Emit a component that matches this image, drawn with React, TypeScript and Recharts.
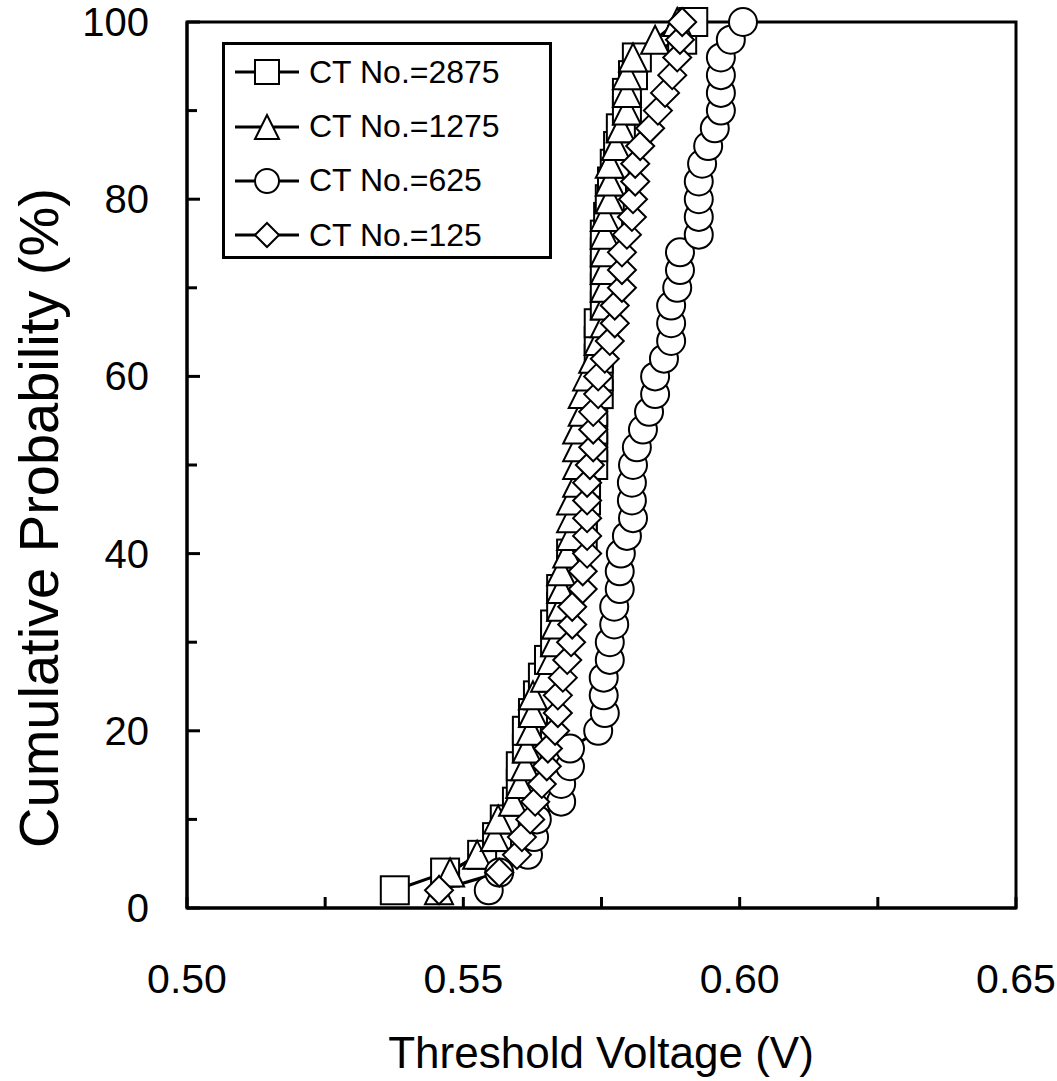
import React from 'react';
import { LineChart, Line, XAxis, YAxis, ReferenceArea, Legend } from 'recharts';

// cumulative probability (%) of each sorted sample
const probability = [
  2, 4, 6, 8, 10, 12, 14, 16, 18, 20, 22, 24, 26, 28, 30, 32, 34, 36, 38, 40, 42, 44, 46, 48, 50,
  52, 54, 56, 58, 60, 62, 64, 66, 68, 70, 72, 74, 76, 78, 80, 82, 84, 86, 88, 90, 92, 94, 96, 98, 100,
];

// threshold voltage (V), one value per probability step
const vt2875 = [
  0.5376, 0.5467, 0.5534, 0.5561, 0.5575, 0.5597, 0.5604, 0.5604, 0.5615, 0.5615,
  0.5626, 0.5635, 0.5644, 0.5655, 0.5666, 0.5666, 0.5677, 0.5677, 0.5695, 0.5695,
  0.5716, 0.5716, 0.5722, 0.5722, 0.5735, 0.5735, 0.5735, 0.5735, 0.5745, 0.5745,
  0.5745, 0.5745, 0.5745, 0.5756, 0.5756, 0.5756, 0.5756, 0.5756, 0.5762, 0.5765,
  0.5769, 0.5774, 0.578, 0.5785, 0.5796, 0.5796, 0.5807, 0.5814, 0.5896, 0.5916,
];
const vt1275 = [
  0.5456, 0.5476, 0.5525, 0.5557, 0.5563, 0.559, 0.5603, 0.5612, 0.5615, 0.5622,
  0.5626, 0.5626, 0.5648, 0.5659, 0.5666, 0.5668, 0.5677, 0.5677, 0.5677, 0.5688,
  0.5695, 0.5695, 0.5695, 0.5706, 0.5706, 0.5706, 0.5706, 0.5716, 0.5716, 0.5724,
  0.5735, 0.5745, 0.5756, 0.5756, 0.5756, 0.5756, 0.5756, 0.5756, 0.5756, 0.5765,
  0.5765, 0.5765, 0.5776, 0.5785, 0.5796, 0.5796, 0.5796, 0.5807, 0.5847, 0.5887,
];
const vt625 = [
  0.5546, 0.5565, 0.5617, 0.5628, 0.5633, 0.5677, 0.5677, 0.5693, 0.5693, 0.5744,
  0.5756, 0.5754, 0.5754, 0.5765, 0.5765, 0.5773, 0.5773, 0.5783, 0.5783, 0.5785,
  0.5796, 0.5807, 0.5805, 0.5805, 0.5807, 0.5814, 0.5825, 0.5836, 0.5847, 0.5847,
  0.5863, 0.5876, 0.5876, 0.5876, 0.5887, 0.5892, 0.5892, 0.5926, 0.5926, 0.5926,
  0.5926, 0.5932, 0.5943, 0.5955, 0.5966, 0.5966, 0.5966, 0.5966, 0.5984, 0.6006,
];
const vt125 = [
  0.5456, 0.5565, 0.5597, 0.5606, 0.5621, 0.563, 0.5642, 0.5651, 0.5653, 0.5666,
  0.5671, 0.5671, 0.568, 0.5688, 0.5695, 0.5697, 0.5697, 0.5716, 0.5716, 0.5724,
  0.5724, 0.5724, 0.5724, 0.5724, 0.5729, 0.5735, 0.5735, 0.5735, 0.5744, 0.5744,
  0.5756, 0.5765, 0.5774, 0.5774, 0.5787, 0.5787, 0.5787, 0.5796, 0.5805, 0.5807,
  0.5811, 0.5811, 0.582, 0.5838, 0.5852, 0.5865, 0.5878, 0.5887, 0.5892, 0.5896,
];

const seriesNames = ['CT No.=2875', 'CT No.=1275', 'CT No.=625', 'CT No.=125'];
const seriesShapes = ['square', 'triangle', 'circle', 'diamond'];
const seriesValues = [vt2875, vt1275, vt625, vt125];

const xTicks = [0.5, 0.525, 0.55, 0.575, 0.6, 0.625, 0.65];
const yTicks = [0, 10, 20, 30, 40, 50, 60, 70, 80, 90, 100];

const FONT = '"Liberation Sans", Arial, sans-serif';

function Marker({ shape, cx, cy, size }: { shape: string; cx: number; cy: number; size: number }) {
  const h = size / 2;
  const common = { fill: '#fff', stroke: '#000', strokeWidth: 2 };
  if (shape === 'square') return <rect x={cx - h} y={cy - h} width={size} height={size} {...common} />;
  if (shape === 'triangle')
    return <polygon points={`${cx},${cy - h} ${cx + h},${cy + h} ${cx - h},${cy + h}`} {...common} />;
  if (shape === 'circle') return <circle cx={cx} cy={cy} r={h} {...common} />;
  return <polygon points={`${cx},${cy - h} ${cx + h},${cy} ${cx},${cy + h} ${cx - h},${cy}`} {...common} />;
}

const XTick = (props: any) => {
  const { x, y, payload } = props;
  const v = Math.round(payload.value * 1000);
  return (
    <g>
      <line x1={x} x2={x} y1={y} y2={y - 11} stroke="#000" strokeWidth={3} />
      {v % 50 === 0 && (
        <text x={x} y={y + 71} textAnchor="middle" dominantBaseline="central" fontSize={41} fontFamily={FONT} fill="#000">
          {payload.value.toFixed(2)}
        </text>
      )}
    </g>
  );
};

const YTick = (props: any) => {
  const { x, y, payload } = props;
  const major = payload.value % 20 === 0;
  return (
    <g>
      <line x1={x} x2={x + (major ? 13 : 10)} y1={y} y2={y} stroke="#000" strokeWidth={3} />
      {major && (
        <text x={x - 38} y={y} textAnchor="end" dominantBaseline="central" fontSize={40} fontFamily={FONT} fill="#000">
          {payload.value}
        </text>
      )}
    </g>
  );
};

const renderLegend = () => (
  <div
    style={{
      border: '3px solid #000',
      background: '#fff',
      fontFamily: FONT,
      fontSize: 32,
      width: 330,
      height: 217,
      boxSizing: 'border-box',
    }}
  >
    {seriesNames.map((name, i) => (
      <div key={name} style={{ display: 'flex', alignItems: 'center', height: 54.4 }}>
        <svg width={84} height={40}>
          <line x1={10} x2={74} y1={20} y2={20} stroke="#000" strokeWidth={3} />
          <Marker shape={seriesShapes[i]} cx={42} cy={20} size={24} />
        </svg>
        <span style={{ whiteSpace: 'nowrap' }}>{name}</span>
      </div>
    ))}
  </div>
);

export default function App() {
  return (
    <div style={{ position: 'absolute', left: 0, top: 0, background: '#fff' }}>
      <LineChart width={1057} height={1081} margin={{ top: 22, right: 41, bottom: 63, left: 37 }}>
        <XAxis
          type="number"
          dataKey="v"
          domain={[0.5, 0.65]}
          ticks={xTicks}
          interval={0}
          tickLine={false}
          tickSize={0}
          tickMargin={0}
          height={110}
          axisLine={{ stroke: '#000', strokeWidth: 3 }}
          tick={<XTick />}
          allowDataOverflow
          label={() => (
            <text x={601} y={1052} textAnchor="middle" dominantBaseline="central" fontSize={44} fontFamily={FONT} fill="#000">
              Threshold Voltage (V)
            </text>
          )}
        />
        <YAxis
          type="number"
          dataKey="p"
          domain={[0, 100]}
          ticks={yTicks}
          interval={0}
          tickLine={false}
          tickSize={0}
          tickMargin={0}
          width={150}
          axisLine={{ stroke: '#000', strokeWidth: 3 }}
          tick={<YTick />}
          label={() => (
            <text
              x={38}
              y={518}
              transform="rotate(-90 38 518)"
              textAnchor="middle"
              dominantBaseline="central"
              fontSize={56}
              fontFamily={FONT}
              fill="#000"
            >
              Cumulative Probability (%)
            </text>
          )}
        />
        <ReferenceArea x1={0.5} x2={0.65} y1={0} y2={100} fill="none" stroke="#000" strokeWidth={3} />
        {seriesValues.map((vals, si) => (
          <Line
            key={seriesNames[si]}
            name={seriesNames[si]}
            data={vals.map((v, i) => ({ v, p: probability[i] }))}
            dataKey="p"
            type="linear"
            stroke="#000"
            strokeWidth={3}
            isAnimationActive={false}
            dot={(props: any) => (
              <Marker key={`${si}-${props.index}`} shape={seriesShapes[si]} cx={props.cx} cy={props.cy} size={28} />
            )}
            activeDot={false}
          />
        ))}
        <Legend
          layout="vertical"
          align="center"
          verticalAlign="middle"
          content={renderLegend}
          wrapperStyle={{ left: 222, top: 42, width: 'auto', height: 'auto' }}
        />
      </LineChart>
    </div>
  );
}
